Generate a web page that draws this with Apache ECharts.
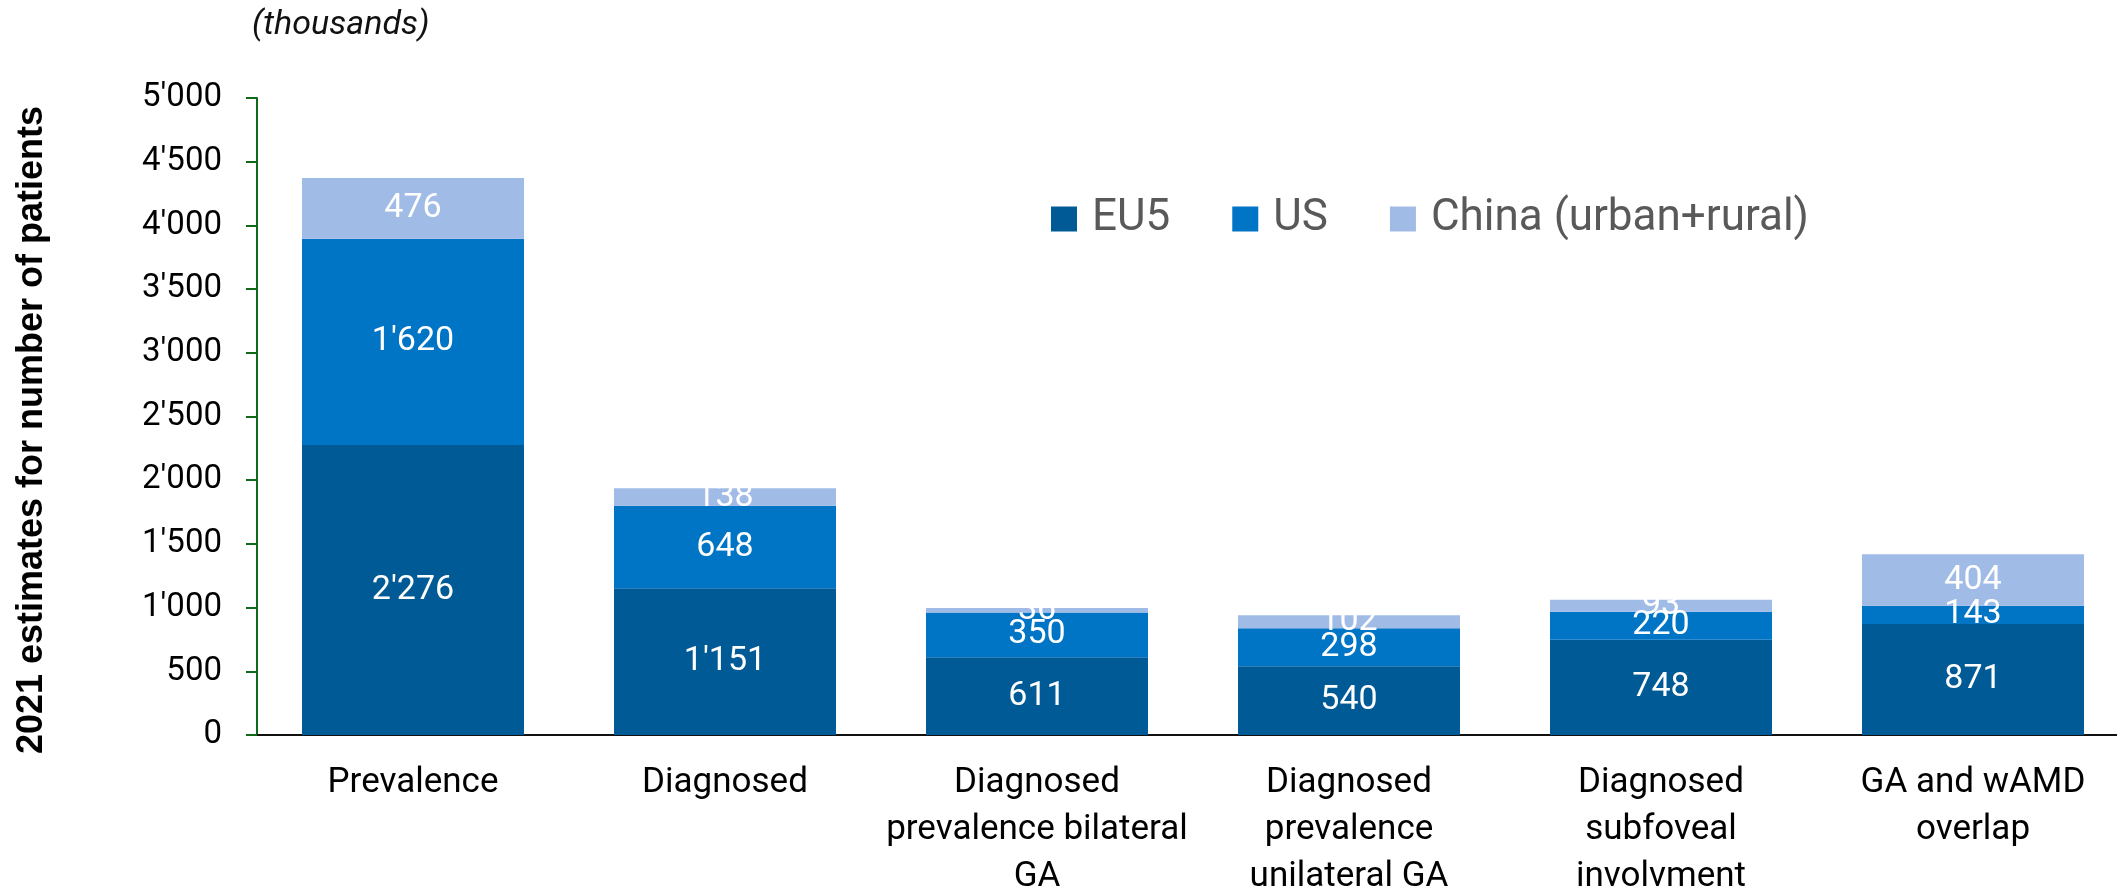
<!DOCTYPE html>
<html>
<head>
<meta charset="utf-8">
<script src="https://cdn.jsdelivr.net/npm/echarts@6/dist/echarts.min.js"></script>
<style>
html,body{margin:0;padding:0;background:#fff;overflow:hidden;}
#chart{width:2117px;height:889px;}
</style>
</head>
<body>
<div id="chart"></div>
<script>
const categories = [
  "Prevalence",
  "Diagnosed",
  "Diagnosed\nprevalence bilateral\nGA",
  "Diagnosed\nprevalence\nunilateral GA",
  "Diagnosed\nsubfoveal\ninvolvment",
  "GA and wAMD\noverlap"
];
const seriesNames = ["EU5", "US", "China (urban+rural)"];
const eu5 = [2276, 1151, 611, 540, 748, 871];
const us = [1620, 648, 350, 298, 220, 143];
const china = [476, 138, 36, 102, 93, 404];
const yMin = 0, yMax = 5000, yStep = 500;
const yAxisTitle = "2021 estimates for number of patients";
const unitNote = "(thousands)";

const colors = ["#005A96", "#0075C6", "#A1BBE7"];

function fmt(v) {
  return String(v).replace(/\B(?=(\d{3})+(?!\d))/g, "'");
}

const chart = echarts.init(document.getElementById('chart'), null, {renderer: 'canvas'});

const dataSets = [eu5, us, china];
const series = dataSets.map((d, i) => ({
  name: seriesNames[i],
  type: 'bar',
  stack: 'total',
  barWidth: 222,
  data: d,
  itemStyle: {color: colors[i]},
  label: {
    show: true,
    position: 'inside',
    color: '#ffffff',
    fontFamily: 'Roboto',
    fontSize: 34,
    formatter: p => fmt(p.value)
  },
  emphasis: {disabled: true}
}));

chart.setOption({
  animation: false,
  backgroundColor: '#ffffff',
  grid: {left: 257, right: -12, top: 98, bottom: 154, containLabel: false, outerBoundsMode: 'none'},
  legend: {
    data: seriesNames,
    left: 1046,
    top: 192,
    orient: 'horizontal',
    icon: 'rect',
    itemWidth: 26,
    itemHeight: 25,
    itemGap: 62,
    selectedMode: false,
    textStyle: {
      fontFamily: 'Roboto',
      fontSize: 44,
      color: '#595959',
      padding: [0, 0, 0, 10]
    }
  },
  xAxis: {
    type: 'category',
    data: categories,
    axisLine: {show: true, lineStyle: {color: '#111111', width: 2}},
    axisTick: {show: false},
    axisLabel: {
      interval: 0,
      margin: 25,
      fontFamily: 'Roboto',
      fontSize: 35,
      lineHeight: 47,
      color: '#000000'
    }
  },
  yAxis: {
    type: 'value',
    min: yMin,
    max: yMax,
    interval: yStep,
    axisLine: {show: true, lineStyle: {color: '#116a1c', width: 2}},
    axisTick: {show: true, inside: false, length: 11, lineStyle: {color: '#116a1c', width: 2}},
    splitLine: {show: false},
    axisLabel: {
      margin: 35,
      fontFamily: 'Roboto',
      fontSize: 33,
      color: '#000000',
      formatter: v => fmt(v)
    }
  },
  graphic: [
    {
      type: 'text',
      x: 32,
      y: 430,
      rotation: Math.PI / 2,
      style: {
        text: yAxisTitle,
        font: 'bold 36px "Liberation Sans", Arial, sans-serif',
        fill: '#000000',
        textAlign: 'center',
        textVerticalAlign: 'middle'
      }
    },
    {
      type: 'text',
      x: 252,
      y: 25,
      style: {
        text: unitNote,
        font: 'italic 34px Roboto, sans-serif',
        fill: '#111111',
        textAlign: 'left',
        textVerticalAlign: 'middle'
      }
    }
  ],
  series: series
});
</script>
</body>
</html>
